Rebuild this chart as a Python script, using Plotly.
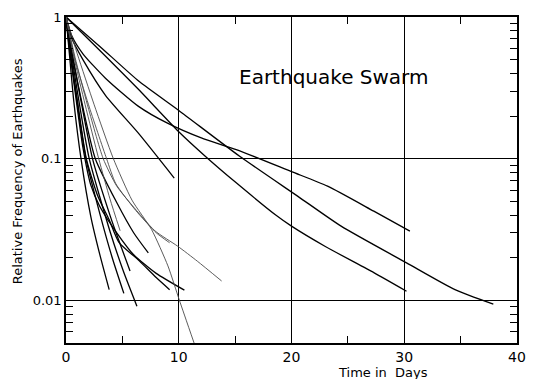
import plotly.graph_objects as go

# Decay of earthquake activity in swarms: relative frequency vs time (days).
# Long-lived swarms
long_a_t = [0, 3.0, 6.5, 10, 15.4, 20.6, 24.4, 30.2, 34.5, 37.9]
long_a_f = [1, 0.62, 0.35, 0.219, 0.104, 0.054, 0.0334, 0.0184, 0.0119, 0.0094]

long_b_t = [0, 3.0, 6.4, 10, 12.3, 15.1, 18.6, 20.0, 23.0, 27.3, 30.2]
long_b_f = [1, 0.58, 0.31, 0.155, 0.105, 0.0675, 0.040, 0.0334, 0.024, 0.0157, 0.0116]

long_c_t = [0, 0.5, 1.5, 3.5, 6.4, 9.0, 12.0, 15.1, 20.0, 23.2, 27.3, 30.5]
long_c_f = [1, 0.74, 0.55, 0.37, 0.235, 0.178, 0.14, 0.116, 0.081, 0.064, 0.0426, 0.0308]

long_d_t = [0, 0.5, 1.5, 3.5, 6.4, 9.6]
long_d_f = [1, 0.71, 0.5, 0.28, 0.152, 0.073]

# Short-lived swarms (dense bundle)
s1_t = [0, 0.3, 0.7, 1.33, 2.2, 3.0, 3.83]
s1_f = [1, 0.55, 0.25, 0.1, 0.039, 0.021, 0.0119]

s2_t = [0, 0.35, 0.9, 1.77, 3.07, 4.1, 5.13]
s2_f = [1, 0.58, 0.28, 0.1, 0.039, 0.02, 0.0112]

s3_t = [0, 0.4, 1.0, 2.06, 3.94, 5.1, 6.29]
s3_f = [1, 0.6, 0.3, 0.1, 0.030, 0.016, 0.0091]

s4_t = [0, 0.45, 1.2, 2.35, 3.94, 4.8, 5.68]
s4_f = [1, 0.6, 0.29, 0.1, 0.039, 0.025, 0.0161]

s5_t = [0, 0.7, 1.7, 2.9, 3.9, 4.8]
s5_f = [1, 0.52, 0.24, 0.1, 0.052, 0.031]

s6_t = [0, 0.6, 1.5, 2.6, 4.5, 6.0, 7.3]
s6_f = [1, 0.52, 0.23, 0.1, 0.049, 0.03, 0.0216]

s7_t = [0, 0.4, 1.0, 1.8, 2.8, 3.83, 4.7, 6.5, 8.0, 9.19]
s7_f = [1, 0.55, 0.26, 0.1, 0.055, 0.037, 0.0257, 0.019, 0.0145, 0.0119]

s8_t = [0, 0.3, 0.8, 1.5, 2.2, 3.0, 4.5, 6.0, 8.0, 10.5]
s8_f = [1, 0.6, 0.3, 0.12, 0.065, 0.046, 0.030, 0.021, 0.0155, 0.0118]

s9_t = [0, 0.8, 2.0, 3.6, 4.4, 6.2, 8.0, 9.19]
s9_f = [1, 0.5, 0.24, 0.1, 0.067, 0.043, 0.030, 0.0255]

s10_t = [0, 1.0, 2.5, 4.2, 5.85, 7.59, 9.04, 10.06, 11.36]
s10_f = [1, 0.55, 0.24, 0.1, 0.051, 0.0316, 0.0175, 0.01, 0.005]

s11_t = [0, 0.8, 1.9, 3.3, 4.5, 5.85, 7.88, 9.91, 11.65, 13.8]
s11_f = [1, 0.52, 0.24, 0.1, 0.064, 0.047, 0.031, 0.0241, 0.0189, 0.0137]

dark = [
    (long_a_t, long_a_f), (long_b_t, long_b_f), (long_c_t, long_c_f), (long_d_t, long_d_f),
    (s1_t, s1_f), (s2_t, s2_f), (s3_t, s3_f), (s4_t, s4_f), (s6_t, s6_f),
    (s7_t, s7_f), (s8_t, s8_f),
]
light = [(s5_t, s5_f), (s9_t, s9_f), (s10_t, s10_f), (s11_t, s11_f)]

x_ticks = [0, 10, 20, 30, 40]
y_ticks = [0.01, 0.1, 1]
y_tick_text = ["0.01", "0.1", "1"]
y_minor = [m * d for d in (0.001, 0.01, 0.1) for m in range(2, 10) if m * d >= 0.005]

fig = go.Figure()
for t, f in dark:
    fig.add_trace(go.Scatter(x=t, y=f, mode="lines",
                             line=dict(color="black", width=1.3, shape="spline", smoothing=0.6),
                             hoverinfo="skip", showlegend=False))
for t, f in light:
    fig.add_trace(go.Scatter(x=t, y=f, mode="lines",
                             line=dict(color="#4a4a4a", width=0.9, shape="spline", smoothing=0.6),
                             hoverinfo="skip", showlegend=False))

font = "DejaVu Sans"
fig.update_layout(
    width=535, height=379,
    margin=dict(l=66, r=9, t=17, b=36),
    paper_bgcolor="white", plot_bgcolor="white",
    font=dict(family=font, color="black"),
    xaxis=dict(
        range=[0, 40], tickvals=x_ticks, ticktext=[str(v) for v in x_ticks],
        showline=True, linecolor="black", linewidth=1.5, mirror="allticks",
        ticks="inside", ticklen=6, tickcolor="black",
        minor=dict(dtick=5, tick0=0, ticks="inside", ticklen=7, tickcolor="black", showgrid=False),
        showgrid=True, gridcolor="black", gridwidth=1, zeroline=False,
        tickfont=dict(size=14),
    ),
    yaxis=dict(
        type="log", range=[-2.301, 0], tickvals=y_ticks, ticktext=y_tick_text,
        showline=True, linecolor="black", linewidth=1.5, mirror="allticks",
        ticks="inside", ticklen=6, tickcolor="black",
        minor=dict(tickvals=y_minor, ticks="inside", ticklen=7, tickcolor="black", showgrid=False),
        showgrid=True, gridcolor="black", gridwidth=1, zeroline=False,
        tickfont=dict(size=13),
    ),
    annotations=[
        dict(text="Earthquake Swarm", xref="paper", yref="paper", x=0.594, y=0.859,
             showarrow=False, font=dict(size=20, family=font)),
        dict(text="Time in  Days", xref="paper", yref="paper", x=0.702, y=-0.09,
             xanchor="center", yanchor="middle", showarrow=False, font=dict(size=13, family=font)),
        dict(text="Relative Frequency of Earthquakes", xref="paper", yref="paper", x=-0.107, y=0.526,
             xanchor="center", yanchor="middle", textangle=-90, showarrow=False,
             font=dict(size=13, family=font)),
    ],
)

fig.write_html("out.html")
